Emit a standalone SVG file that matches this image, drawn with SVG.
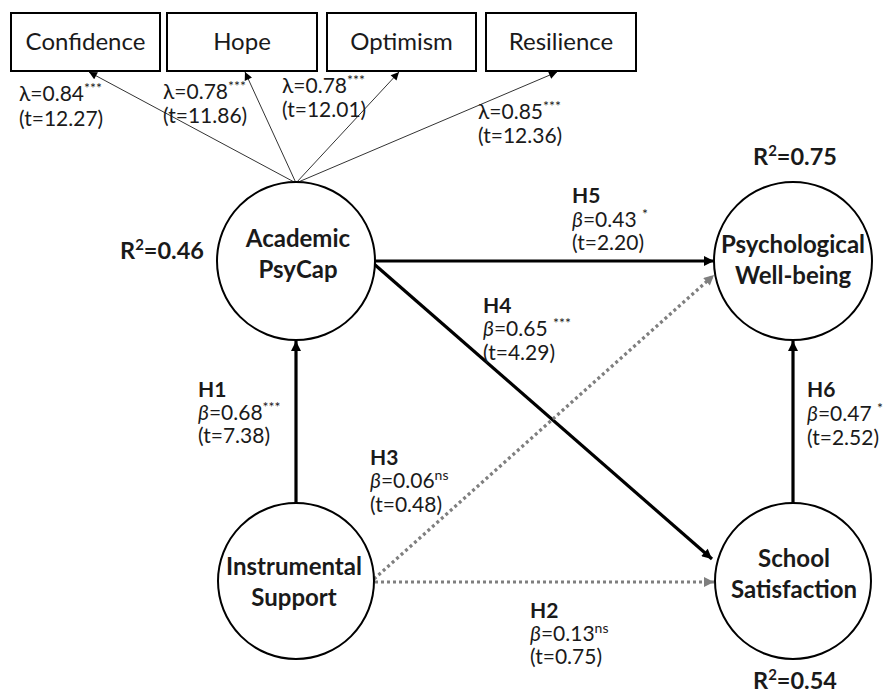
<svg xmlns="http://www.w3.org/2000/svg" width="891" height="695" viewBox="0 0 891 695">
<style>
text{font-family:Lato,"Noto Sans",sans-serif;fill:#1a1a1a}
.box{fill:#fff;stroke:#000;stroke-width:2}
.node{fill:#fff;stroke:#000;stroke-width:2}
.bt{font-size:24px;text-anchor:middle}
.nt{font-size:24px;font-weight:bold;text-anchor:middle}
.r2{font-size:23.5px;font-weight:bold}
.lb{font-size:21px}
.h{font-weight:bold}
.sup{font-size:14px}
.b{font-style:italic}
.thin{stroke:#333;stroke-width:1;fill:none;marker-end:url(#as)}
.solid{stroke:#000;stroke-width:3.2;fill:none;marker-end:url(#ab)}
.dot{stroke:#7f7f7f;stroke-width:3.2;fill:none;stroke-dasharray:3 3;marker-end:url(#ag)}
</style>
<defs>
<marker id="ab" viewBox="0 0 10 10" refX="10" refY="5" markerWidth="11" markerHeight="10" markerUnits="userSpaceOnUse" orient="auto"><path d="M0,0L10,5L0,10z" fill="#000"/></marker>
<marker id="ag" viewBox="0 0 10 10" refX="10" refY="5" markerWidth="11" markerHeight="10" markerUnits="userSpaceOnUse" orient="auto"><path d="M0,0L10,5L0,10z" fill="#7f7f7f"/></marker>
<marker id="as" viewBox="0 0 10 10" refX="10" refY="5" markerWidth="9" markerHeight="8" markerUnits="userSpaceOnUse" orient="auto"><path d="M0,0L10,5L0,10z" fill="#000"/></marker>
</defs>

<g id="connectors">
<line class="thin" x1="296" y1="183" x2="89" y2="72"/>
<line class="thin" x1="296" y1="183" x2="245" y2="72"/>
<line class="thin" x1="296" y1="183" x2="399" y2="72"/>
<line class="thin" x1="296" y1="183" x2="557" y2="72"/>
<line class="solid" x1="296" y1="503" x2="296" y2="341"/>
<line class="solid" x1="793" y1="503" x2="793" y2="341"/>
<line class="solid" x1="375" y1="261" x2="714" y2="261"/>
<line class="solid" x1="374" y1="264" x2="712" y2="559"/>
<line class="dot" x1="374" y1="579" x2="714" y2="275"/>
<line class="dot" x1="375" y1="582" x2="714" y2="582"/>
</g>

<g id="confidence"><rect class="box" x="11" y="13" width="149" height="58"/><text class="bt" x="85.5" y="50">Confidence</text></g>
<g id="hope"><rect class="box" x="167" y="13" width="150" height="58"/><text class="bt" x="242" y="50">Hope</text></g>
<g id="optimism"><rect class="box" x="327" y="13" width="149" height="58"/><text class="bt" x="401.5" y="50">Optimism</text></g>
<g id="resilience"><rect class="box" x="486" y="13" width="150" height="58"/><text class="bt" x="561" y="50">Resilience</text></g>

<g id="academic-psycap"><circle class="node" cx="296" cy="261" r="79"/><text class="nt" x="298" y="247">Academic</text><text class="nt" x="298" y="278">PsyCap</text></g>
<g id="psychological-wellbeing"><circle class="node" cx="793" cy="261" r="79"/><text class="nt" x="793" y="253">Psychological</text><text class="nt" x="793" y="284">Well-being</text></g>
<g id="instrumental-support"><circle class="node" cx="296" cy="581" r="78"/><text class="nt" x="294" y="575">Instrumental</text><text class="nt" x="294" y="606">Support</text></g>
<g id="school-satisfaction"><circle class="node" cx="793" cy="581" r="78"/><text class="nt" x="794" y="567">School</text><text class="nt" x="794" y="598">Satisfaction</text></g>

<g id="labels">
<text class="r2" x="120" y="259">R<tspan font-size="15" dy="-9">2</tspan><tspan dy="9">=0.46</tspan></text>
<text class="r2" x="753" y="165">R<tspan font-size="15" dy="-9">2</tspan><tspan dy="9">=0.75</tspan></text>
<text class="r2" x="753" y="689">R<tspan font-size="15" dy="-9">2</tspan><tspan dy="9">=0.54</tspan></text>

<text class="lb" x="19" y="101">λ=0.84<tspan class="sup" dy="-8">***</tspan></text>
<text class="lb" x="19" y="126">(t=12.27)</text>
<text class="lb" x="163" y="99">λ=0.78<tspan class="sup" dy="-8">***</tspan></text>
<text class="lb" x="163" y="123">(t=11.86)</text>
<text class="lb" x="282" y="93">λ=0.78<tspan class="sup" dy="-8">***</tspan></text>
<text class="lb" x="282" y="117">(t=12.01)</text>
<text class="lb" x="478" y="119">λ=0.85<tspan class="sup" dy="-8">***</tspan></text>
<text class="lb" x="478" y="143">(t=12.36)</text>

<text class="lb h" x="572" y="203">H5</text>
<text class="lb" x="572" y="227"><tspan class="b">β</tspan>=0.43 <tspan class="sup" dy="-8">*</tspan></text>
<text class="lb" x="572" y="250">(t=2.20)</text>

<text class="lb h" x="483" y="313">H4</text>
<text class="lb" x="483" y="336"><tspan class="b">β</tspan>=0.65 <tspan class="sup" dy="-8">***</tspan></text>
<text class="lb" x="483" y="360">(t=4.29)</text>

<text class="lb h" x="198" y="397">H1</text>
<text class="lb" x="198" y="420"><tspan class="b">β</tspan>=0.68<tspan class="sup" dy="-8">***</tspan></text>
<text class="lb" x="198" y="443">(t=7.38)</text>

<text class="lb h" x="370" y="465">H3</text>
<text class="lb" x="370" y="488"><tspan class="b">β</tspan>=0.06<tspan class="sup" dy="-8">ns</tspan></text>
<text class="lb" x="370" y="512">(t=0.48)</text>

<text class="lb h" x="530" y="618">H2</text>
<text class="lb" x="530" y="641"><tspan class="b">β</tspan>=0.13<tspan class="sup" dy="-8">ns</tspan></text>
<text class="lb" x="530" y="664">(t=0.75)</text>

<text class="lb h" x="807" y="397">H6</text>
<text class="lb" x="807" y="421"><tspan class="b">β</tspan>=0.47 <tspan class="sup" dy="-8">*</tspan></text>
<text class="lb" x="807" y="445">(t=2.52)</text>
</g>
</svg>
